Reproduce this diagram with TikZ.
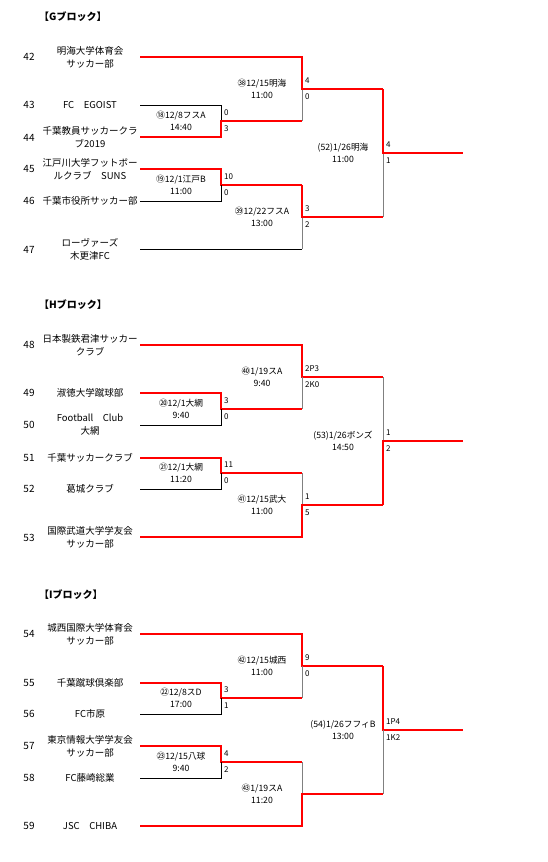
\documentclass[tikz,border=0pt]{standalone}
\usepackage{fontspec}
\setmainfont{Noto Sans CJK JP}
\begin{document}
\begin{tikzpicture}[x=1pt,y=-1pt,
  win/.style={draw=red, line width=2.4pt, line join=miter},
  lose/.style={draw=black, line width=0.8pt},
  loseg/.style={draw=gray, line width=0.9pt},
  seedno/.style={font=\fontsize{10}{12}\selectfont, inner sep=0},
  team/.style={align=center, font=\fontsize{9.5}{13}\selectfont, inner sep=0},
  score/.style={anchor=west, font=\fontsize{8}{9}\selectfont, inner sep=0},
  mlbl/.style={align=center, font=\fontsize{8.7}{12}\selectfont, inner sep=0},
  blocktitle/.style={anchor=west, font=\bfseries\fontsize{10}{12}\selectfont, inner sep=0}]
\useasboundingbox (0,0) rectangle (547,862);

% ---------------- coordinates ----------------
\foreach \n/\y in {42/57,43/105,44/137,45/169,46/201,47/249,
                   48/345,49/393,50/425,51/458,52/489,53/537,
                   54/634,55/683,56/714,57/746,58/778,59/826}
  {\coordinate (t\n) at (140,\y);}
\coordinate (m18) at (221,121); \coordinate (m19) at (221,185);
\coordinate (m38) at (302,89);  \coordinate (m39) at (302,217);
\coordinate (m52) at (383,153); \coordinate (eG) at (463,153);
\coordinate (m20) at (221,409); \coordinate (m21) at (221,473);
\coordinate (m40) at (302,377); \coordinate (m41) at (302,505);
\coordinate (m53) at (383,441); \coordinate (eH) at (463,441);
\coordinate (m22) at (221,698); \coordinate (m23) at (221,762);
\coordinate (m42) at (302,666); \coordinate (m43) at (302,794);
\coordinate (m54) at (383,730); \coordinate (eI) at (463,730);

% ---------------- titles ----------------
\node[blocktitle] (titG) at (39,17) {【Gブロック】};
\node[blocktitle] (titH) at (39,305) {【Hブロック】};
\node[blocktitle] (titI) at (39,595) {【Iブロック】};

% ---------------- seed numbers & teams ----------------
\foreach \n/\y in {42/57,43/105,44/138,45/169,46/201,47/250,
                   48/345,49/393,50/425,51/458,52/489,53/538,
                   54/634,55/683,56/714,57/746,58/778,59/826}
  {\node[seedno] (n\n) at (29,\y) {\n};}

\node[team] (g42) at (90,57)  {明海大学体育会\\サッカー部};
\node[team] (g43) at (90,105) {FC　EGOIST};
\node[team] (g44) at (90,137) {千葉教員サッカークラ\\ブ2019};
\node[team] (g45) at (90,169) {江戸川大学フットボー\\ルクラブ　SUNS};
\node[team] (g46) at (90,201) {千葉市役所サッカー部};
\node[team] (g47) at (90,249) {ローヴァーズ\\木更津FC};

\node[team] (h48) at (90,345) {日本製鉄君津サッカー\\クラブ};
\node[team] (h49) at (90,393) {淑徳大学蹴球部};
\node[team] (h50) at (90,425) {Football　Club\\大網};
\node[team] (h51) at (90,458) {千葉サッカークラブ};
\node[team] (h52) at (90,489) {葛城クラブ};
\node[team] (h53) at (90,537) {国際武道大学学友会\\サッカー部};

\node[team] (i54) at (90,634) {城西国際大学体育会\\サッカー部};
\node[team] (i55) at (90,683) {千葉蹴球倶楽部};
\node[team] (i56) at (90,714) {FC市原};
\node[team] (i57) at (90,746) {東京情報大学学友会\\サッカー部};
\node[team] (i58) at (90,778) {FC藤崎総業};
\node[team] (i59) at (90,826) {JSC　CHIBA};

% ---------------- G block lines ----------------
\draw[lose] (t43) -| (m18);
\draw[win]  (t44) -| (m18) -- (m18 -| m38);
\draw[win]  (t45) -| (m19) -- (m19 -| m39);
\draw[lose] (t46) -| (m19);
\draw[loseg] (m18 -| m38) -- (m38);
\draw[win]  (t42) -| (m38) -- (m38 -| m52);
\draw[lose] (t47) -- (t47 -| m39);
\draw[loseg] (t47 -| m39) -- (m39);
\draw[win]  (m19 -| m39) -- (m39) -- (m39 -| m52);
\draw[loseg] (m39 -| m52) -- (m52);
\draw[win]  (m38 -| m52) -- (m52) -- (eG);

% ---------------- H block lines ----------------
\draw[win]  (t49) -| (m20) -- (m20 -| m40);
\draw[lose] (t50) -| (m20);
\draw[win]  (t51) -| (m21) -- (m21 -| m41);
\draw[lose] (t52) -| (m21);
\draw[win]  (t48) -| (m40) -- (m40 -| m53);
\draw[loseg] (m20 -| m40) -- (m40);
\draw[loseg] (m21 -| m41) -- (m41);
\draw[win]  (t53) -| (m41) -- (m41 -| m53);
\draw[loseg] (m40 -| m53) -- (m53);
\draw[win]  (m41 -| m53) -- (m53) -- (eH);

% ---------------- I block lines ----------------
\draw[win]  (t55) -| (m22) -- (m22 -| m42);
\draw[lose] (t56) -| (m22);
\draw[win]  (t57) -| (m23) -- (m23 -| m43);
\draw[lose] (t58) -| (m23);
\draw[win]  (t54) -| (m42) -- (m42 -| m54);
\draw[loseg] (m22 -| m42) -- (m42);
\draw[loseg] (m23 -| m43) -- (m43);
\draw[win]  (t59) -| (m43) -- (m43 -| m54);
\draw[win]  (m42 -| m54) -- (m54) -- (eI);
\draw[loseg] (m43 -| m54) -- (m54);

% ---------------- match labels ----------------
\path (m18) ++(-40,0) node[mlbl] (l18) {⑱12/8フスA\\14:40};
\path (m19) ++(-40,0) node[mlbl] (l19) {⑲12/1江戸B\\11:00};
\path (m38) ++(-40,0) node[mlbl] (l38) {㊳12/15明海\\11:00};
\path (m39) ++(-40,0) node[mlbl] (l39) {㊴12/22フスA\\13:00};
\path (m52) ++(-40,0) node[mlbl] (l52) {(52)1/26明海\\11:00};

\path (m20) ++(-40,0) node[mlbl] (l20) {⑳12/1大網\\9:40};
\path (m21) ++(-40,0) node[mlbl] (l21) {㉑12/1大網\\11:20};
\path (m40) ++(-40,0) node[mlbl] (l40) {㊵1/19スA\\9:40};
\path (m41) ++(-40,0) node[mlbl] (l41) {㊶12/15武大\\11:00};
\path (m53) ++(-40,0) node[mlbl] (l53) {(53)1/26ボンズ\\14:50};

\path (m22) ++(-40,0) node[mlbl] (l22) {㉒12/8スD\\17:00};
\path (m23) ++(-40,0) node[mlbl] (l23) {㉓12/15八球\\9:40};
\path (m42) ++(-40,0) node[mlbl] (l42) {㊷12/15城西\\11:00};
\path (m43) ++(-40,0) node[mlbl] (l43) {㊸1/19スA\\11:20};
\path (m54) ++(-40,0) node[mlbl] (l54) {(54)1/26フフィB\\13:00};

% ---------------- scores ----------------
\foreach \m/\a/\b in {18/0/3,19/10/0,38/4/0,39/3/2,52/4/1,
                      20/3/0,21/11/0,40/2P3/2K0,41/1/5,53/1/2,
                      22/3/1,23/4/2,42/9/0,54/1P4/1K2}
{
  \path (m\m) ++(3,-8) node[score] (sa\m) {\a};
  \path (m\m) ++(3,8) node[score] (sb\m) {\b};
}
\end{tikzpicture}
\end{document}
